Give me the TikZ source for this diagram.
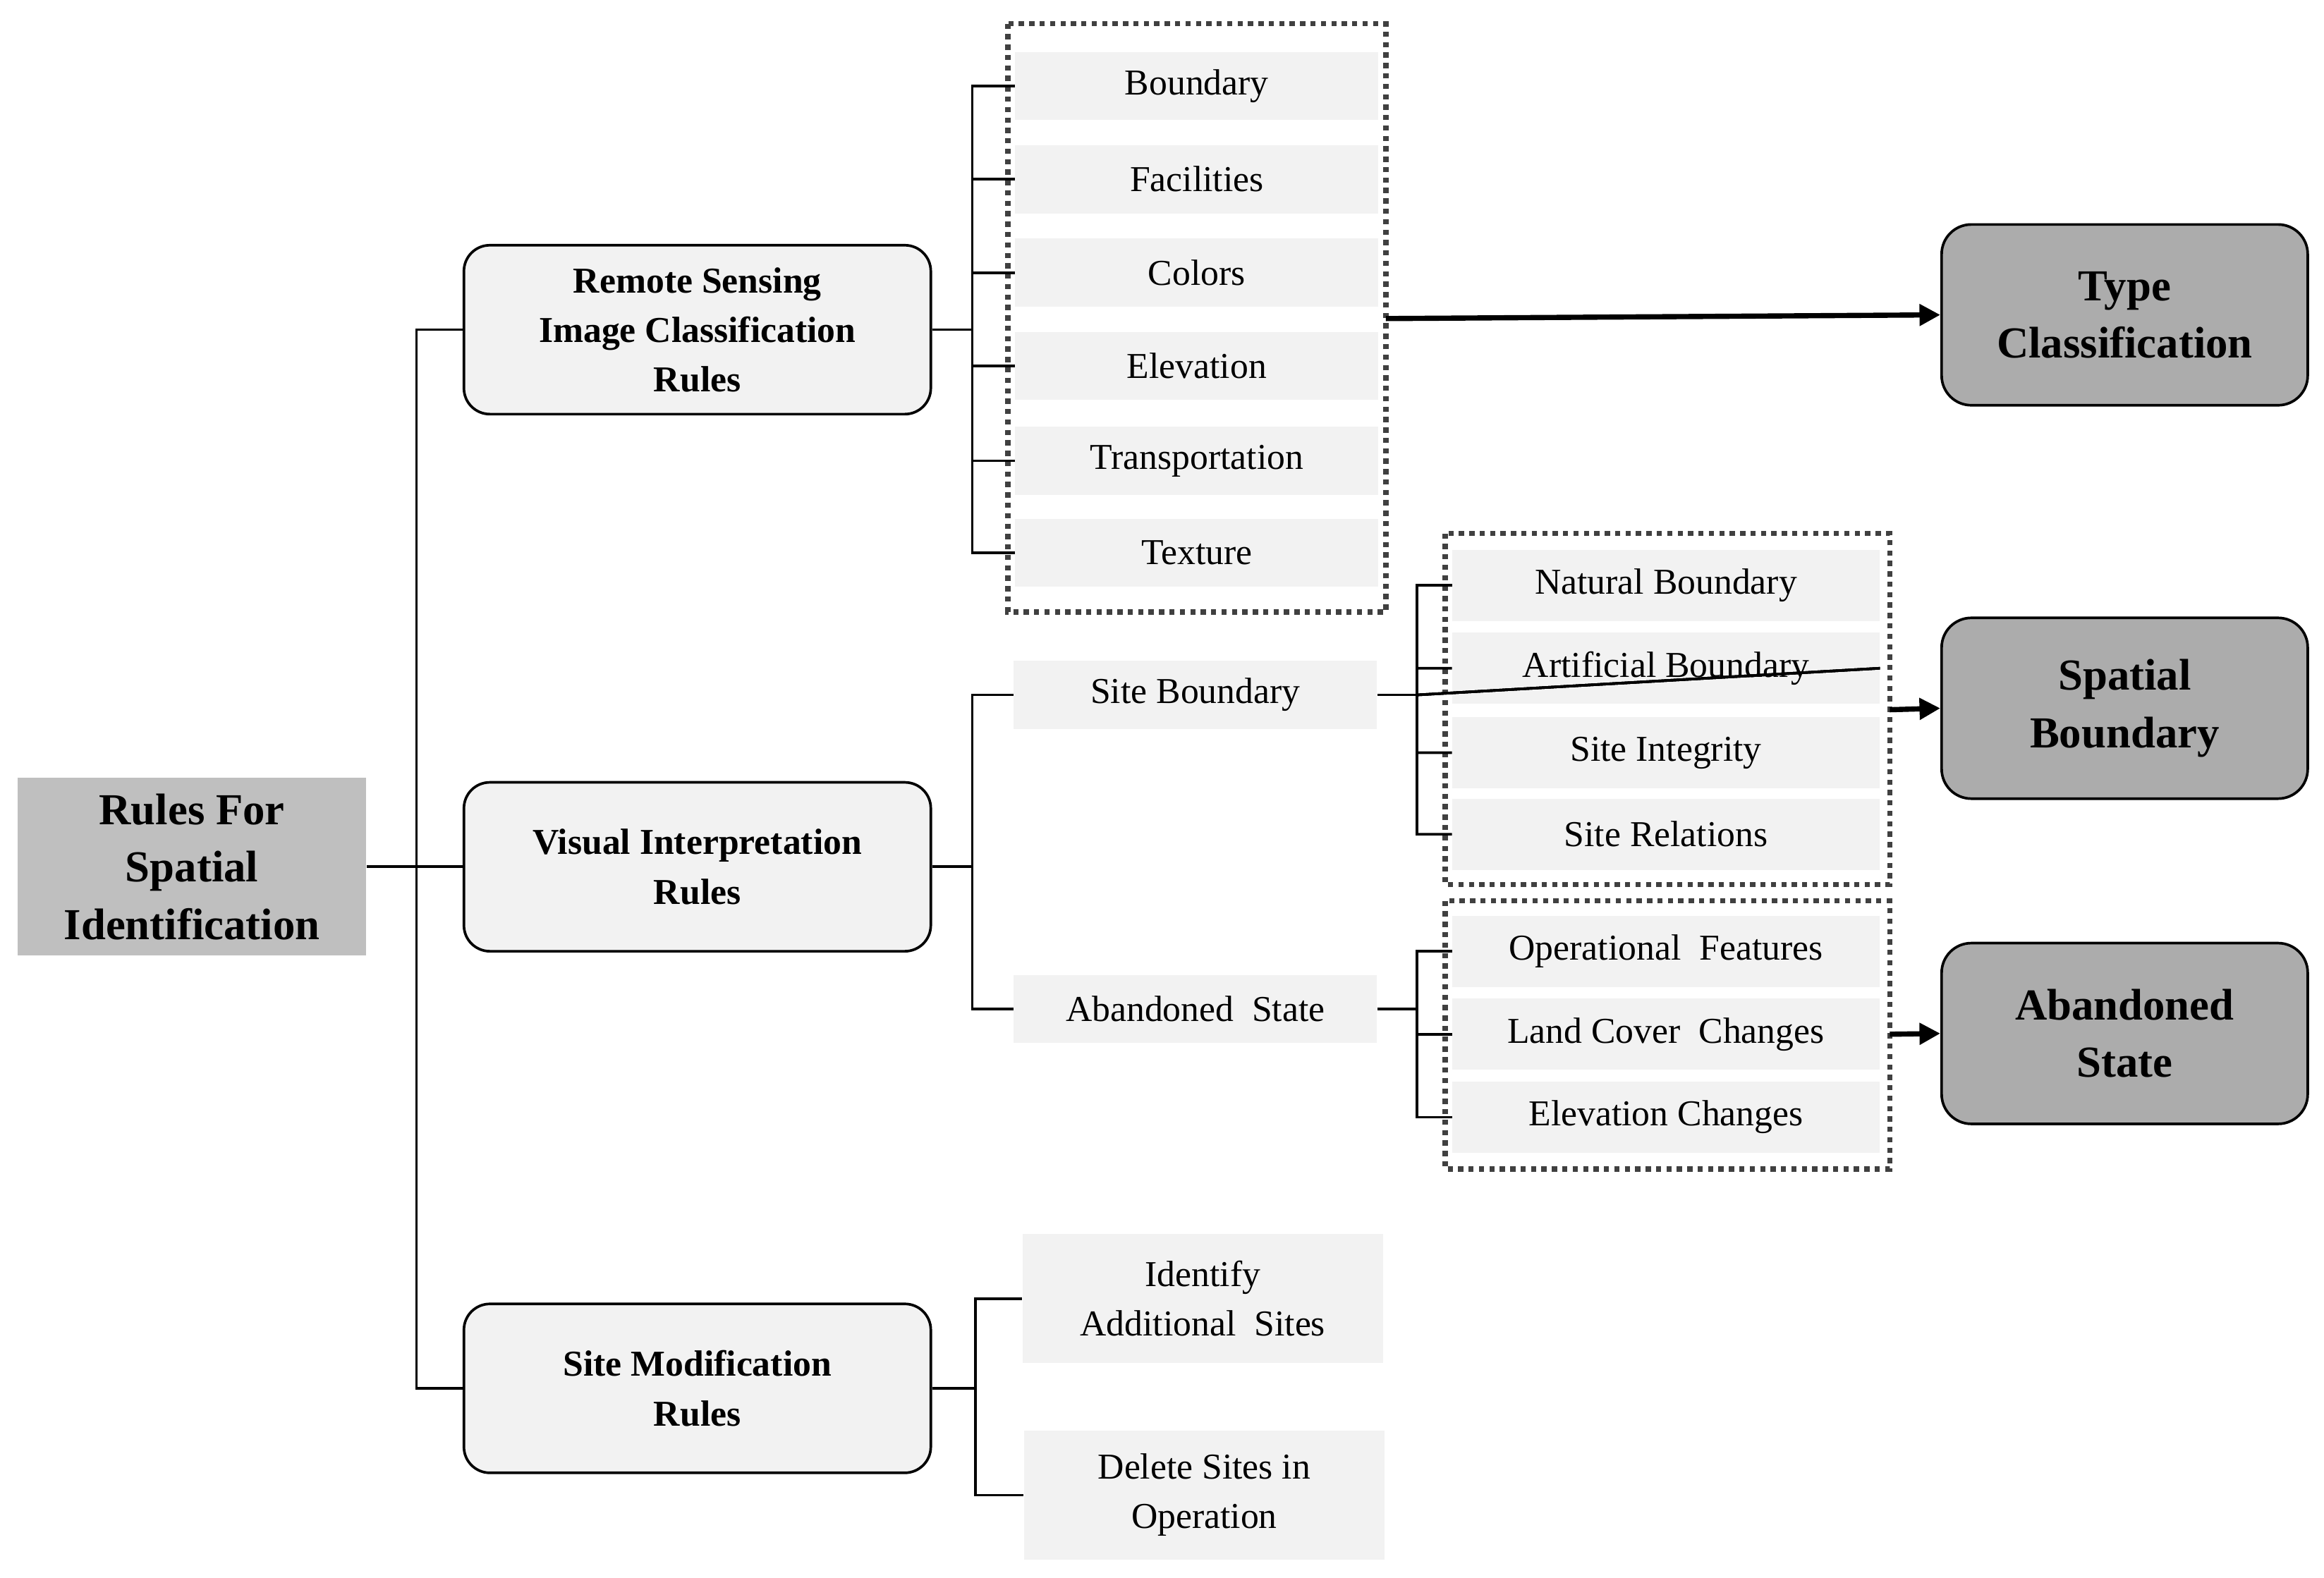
\documentclass[tikz,border=0pt]{standalone}
\usepackage{fontspec}
\setmainfont{Liberation Serif}
\usetikzlibrary{arrows.meta}
\begin{document}
\begin{tikzpicture}[x=0.02cm,y=-0.02cm,
 item/.style={fill=gray!10,draw=none,minimum width=245*0.02cm,minimum height=46*0.02cm,inner sep=0pt,font=\fontsize{14}{16}\selectfont,align=center},
 sub/.style={item,minimum width=288*0.02cm,minimum height=48*0.02cm},
 lone/.style={rounded corners=0.35cm,draw=black,line width=1pt,fill=gray!10,minimum width=315*0.02cm,minimum height=114*0.02cm,font=\bfseries\fontsize{14}{19}\selectfont,align=center,inner sep=0pt},
 res/.style={rounded corners=0.4cm,draw=black,line width=1pt,fill=gray!65,minimum width=247*0.02cm,minimum height=122*0.02cm,font=\bfseries\fontsize{17}{22}\selectfont,align=center,inner sep=0pt},
 frame/.style={draw=black!75,line width=2pt,dash pattern=on 2pt off 2pt},
 ln/.style={line width=1pt},
 arr/.style={line width=2pt,-{Triangle[length=8pt,width=8pt]}}]
\useasboundingbox (0,0) rectangle (1568,1065);
\node[fill=gray!50,minimum width=235*0.02cm,minimum height=120*0.02cm,inner sep=0pt,font=\bfseries\fontsize{17}{22}\selectfont,align=center] (root) at (129.5,585) {Rules For\\Spatial\\Identification};
\node[lone] (rs) at (470.5,222.5) {Remote Sensing\\Image Classification\\Rules};
\node[lone] (vi) at (470.5,585) {Visual Interpretation\\Rules};
\node[lone] (sm) at (470.5,937) {Site Modification\\Rules};
\coordinate (tr) at (281,585);
\draw[ln] (root.east) -- (tr);
\draw[ln] (tr) |- (rs.west);
\draw[ln] (tr) |- (sm.west);
\draw[ln] (tr) -- (vi.west);
% RS items
\draw[frame] (680,16) rectangle (935,413);
\foreach \n/\t/\y in {a/Boundary/58,b/Facilities/121,c/Colors/184,d/Elevation/247,e/Transportation/311,f/Texture/373}{
 \node[item] (r\n) at (807.5,\y) {\t};
 \draw[ln] (rs.east) -- (656,222.5) |- (r\n.west);
}
\coordinate (fr1) at (935,215);
\node[res] (tc) at (1433.5,212.5) {Type\\Classification};
\draw[arr] (fr1) -- (tc.west);
% VI
\node[item] (sb) at (806.5,469) {Site Boundary};
\node[item] (as) at (806.5,681) {Abandoned\ \ State};
\draw[ln] (vi.east) -- (656,585) |- (sb.west);
\draw[ln] (656,585) |- (as.west);
\draw[frame] (975,360) rectangle (1275,597);
\foreach \n/\t/\y in {a/Natural Boundary/395,b/Artificial Boundary/451,c/Site Integrity/508,d/Site Relations/563}{
 \node[sub] (s\n) at (1124,\y) {\t};
 \draw[ln] (sb.east) -- (956,469) |- (s\n.west);
}
\draw[frame] (975,608) rectangle (1275,789);
\foreach \n/\t/\y in {a/Operational\ \ Features/642,b/Land Cover\ \ Changes/698,c/Elevation Changes/754}{
 \node[sub] (t\n) at (1124,\y) {\t};
 \draw[ln] (as.east) -- (956,681) |- (t\n.west);
}
\node[res] (sp) at (1433.5,478) {Spatial\\Boundary};
\node[res] (ab) at (1433.5,697.5) {Abandoned\\State};
\coordinate (fr2) at (1275,479);
\coordinate (fr3) at (1275,698);
\draw[arr] (fr2) -- (sp.west);
\draw[arr] (fr3) -- (ab.west);
% SM
\node[item,minimum height=87*0.02cm,minimum width=243*0.02cm,font=\fontsize{14}{19}\selectfont] (m1) at (811.5,876.5) {Identify\\Additional\ \ Sites};
\node[item,minimum height=87*0.02cm,minimum width=243*0.02cm,font=\fontsize{14}{19}\selectfont] (m2) at (812.5,1009) {Delete Sites in\\Operation};
\draw[ln] (sm.east) -- (658,937) |- (m1.west);
\draw[ln] (658,937) |- (m2.west);
\end{tikzpicture}
\end{document}
